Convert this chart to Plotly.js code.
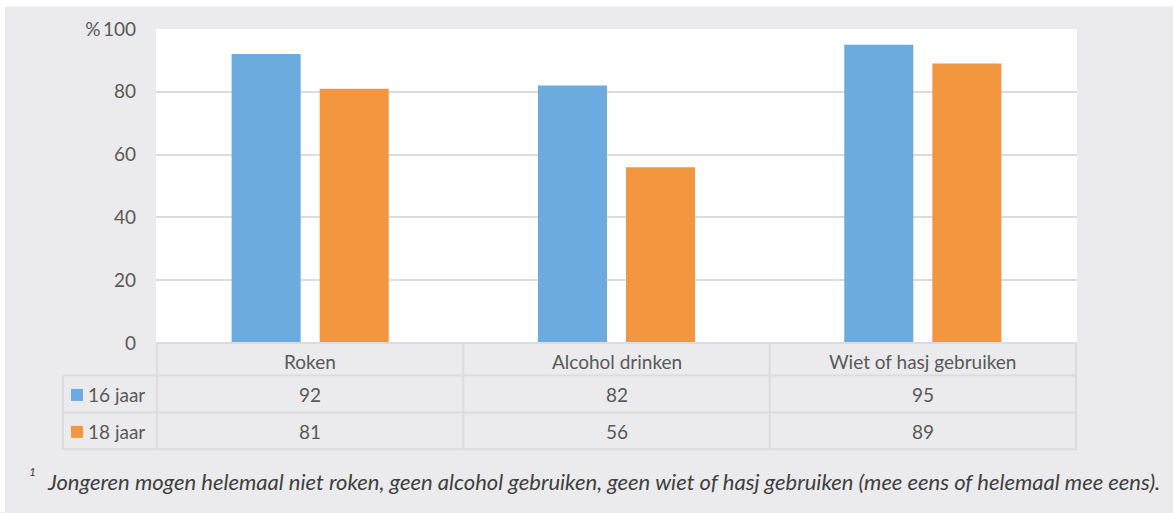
<!DOCTYPE html>
<html>
<head>
<meta charset="utf-8">
<script src="https://cdn.plot.ly/plotly-3.0.1.min.js"></script>
<style>html,body{margin:0;padding:0;background:#fff;}#chart{width:1173px;height:513px;}</style>
</head>
<body>
<div id="chart"></div>
<script>
const categories = ["Roken", "Alcohol drinken", "Wiet of hasj gebruiken"];
const seriesNames = ["16 jaar", "18 jaar"];
const values16 = [92, 82, 95];
const values18 = [81, 56, 89];
const seriesColors = ["#6cabdd", "#f39640"];
const yTickVals = [0, 20, 40, 60, 80, 100];
const yTickText = ["0", "20", "40", "60", "80", "%\u2009100"];
const footnote = "Jongeren mogen helemaal niet roken, geen alcohol gebruiken, geen wiet of hasj gebruiken (mee eens of helemaal mee eens).";

const W = 1173, H = 513;
const L = 156, R = 1077, T = 29, B = 343.5;
const pw = R - L, ph = B - T;
const px = p => (p - L) / pw;          // pixel x -> paper x
const py = p => (B - p) / ph;          // pixel y -> paper y

const FONT = "Lato, 'Open Sans', sans-serif";
const TXT = "#595959";
const LINE = "#dcdcdc";
const FS = 19;

const traces = [values16, values18].map((v, i) => ({
  type: "bar",
  name: seriesNames[i],
  x: categories,
  y: v,
  marker: {color: seriesColors[i]},
  hoverinfo: "none"
}));

const shapes = [];
const annotations = [];

// white margins outside the grey panel
shapes.push({type: "rect", xref: "paper", yref: "paper", x0: px(0), x1: px(W), y0: py(0), y1: py(6.5), fillcolor: "#ffffff", line: {width: 0}, layer: "below"});
shapes.push({type: "rect", xref: "paper", yref: "paper", x0: px(0), x1: px(5), y0: py(0), y1: py(H), fillcolor: "#ffffff", line: {width: 0}, layer: "below"});

// table rows (pixel y of borders)
const rowY = [343.5, 376, 413, 450];
const leftX = 63;
const lw = 2;
shapes.push({type: "line", xref: "paper", yref: "paper", x0: 0, x1: 1, y0: py(rowY[0]), y1: py(rowY[0]), line: {color: LINE, width: lw}});
for (let k = 1; k < rowY.length; k++) {
  shapes.push({type: "line", xref: "paper", yref: "paper", x0: px(leftX), x1: 1, y0: py(rowY[k]), y1: py(rowY[k]), line: {color: LINE, width: lw}});
}
for (let c = 0; c <= categories.length; c++) {
  shapes.push({type: "line", xref: "x", yref: "paper", x0: c - 0.5, x1: c - 0.5, y0: py(rowY[0]), y1: py(rowY[3]), line: {color: LINE, width: lw}});
}
shapes.push({type: "line", xref: "paper", yref: "paper", x0: px(leftX), x1: px(leftX), y0: py(rowY[1]), y1: py(rowY[3]), line: {color: LINE, width: lw}});

// category header labels
categories.forEach(c => {
  annotations.push({xref: "x", yref: "paper", x: c, y: py((rowY[0] + rowY[1]) / 2 + 2), text: c, showarrow: false, font: {family: FONT, size: FS, color: TXT}, xanchor: "center", yanchor: "middle"});
});
// data rows
[values16, values18].forEach((vals, i) => {
  const yc = (rowY[i + 1] + rowY[i + 2]) / 2 + 1;
  vals.forEach((v, j) => {
    annotations.push({xref: "x", yref: "paper", x: categories[j], y: py(yc), text: String(v), showarrow: false, font: {family: FONT, size: FS, color: TXT}, xanchor: "center", yanchor: "middle"});
  });
  shapes.push({type: "rect", xref: "paper", yref: "paper", x0: px(71), x1: px(83), y0: py(yc - 6), y1: py(yc + 6), fillcolor: seriesColors[i], line: {width: 0}});
  annotations.push({xref: "paper", yref: "paper", x: px(86), y: py(yc), text: seriesNames[i], showarrow: false, font: {family: FONT, size: FS, color: TXT}, xanchor: "left", yanchor: "middle"});
});

// footnote
annotations.push({xref: "paper", yref: "paper", x: px(27), y: py(472), text: "<i>1</i>", showarrow: false, font: {family: FONT, size: 12, color: "#404040"}, xanchor: "left", yanchor: "middle"});
annotations.push({xref: "paper", yref: "paper", x: px(45), y: py(482), text: "<i>" + footnote + "</i>", showarrow: false, font: {family: FONT, size: 22, color: "#404040"}, xanchor: "left", yanchor: "middle"});

const layout = {
  width: W, height: H,
  margin: {l: L, r: W - R, t: T, b: H - B, pad: 0},
  paper_bgcolor: "#ebebed",
  plot_bgcolor: "#ffffff",
  showlegend: false,
  barmode: "group",
  bargap: 0.425,
  bargroupgap: 0.216,
  xaxis: {showticklabels: false, showgrid: false, zeroline: false, showline: false, ticks: "", fixedrange: true},
  yaxis: {range: [0, 100], tickvals: yTickVals, ticktext: yTickText, showgrid: true, gridcolor: LINE, gridwidth: 2, zeroline: false, showline: false, ticks: "", ticklabelstandoff: 19, tickfont: {family: FONT, size: FS, color: TXT}, fixedrange: true},
  font: {family: FONT, color: TXT},
  shapes: shapes,
  annotations: annotations
};

Plotly.newPlot("chart", traces, layout, {displayModeBar: false, staticPlot: true});
</script>
</body>
</html>
